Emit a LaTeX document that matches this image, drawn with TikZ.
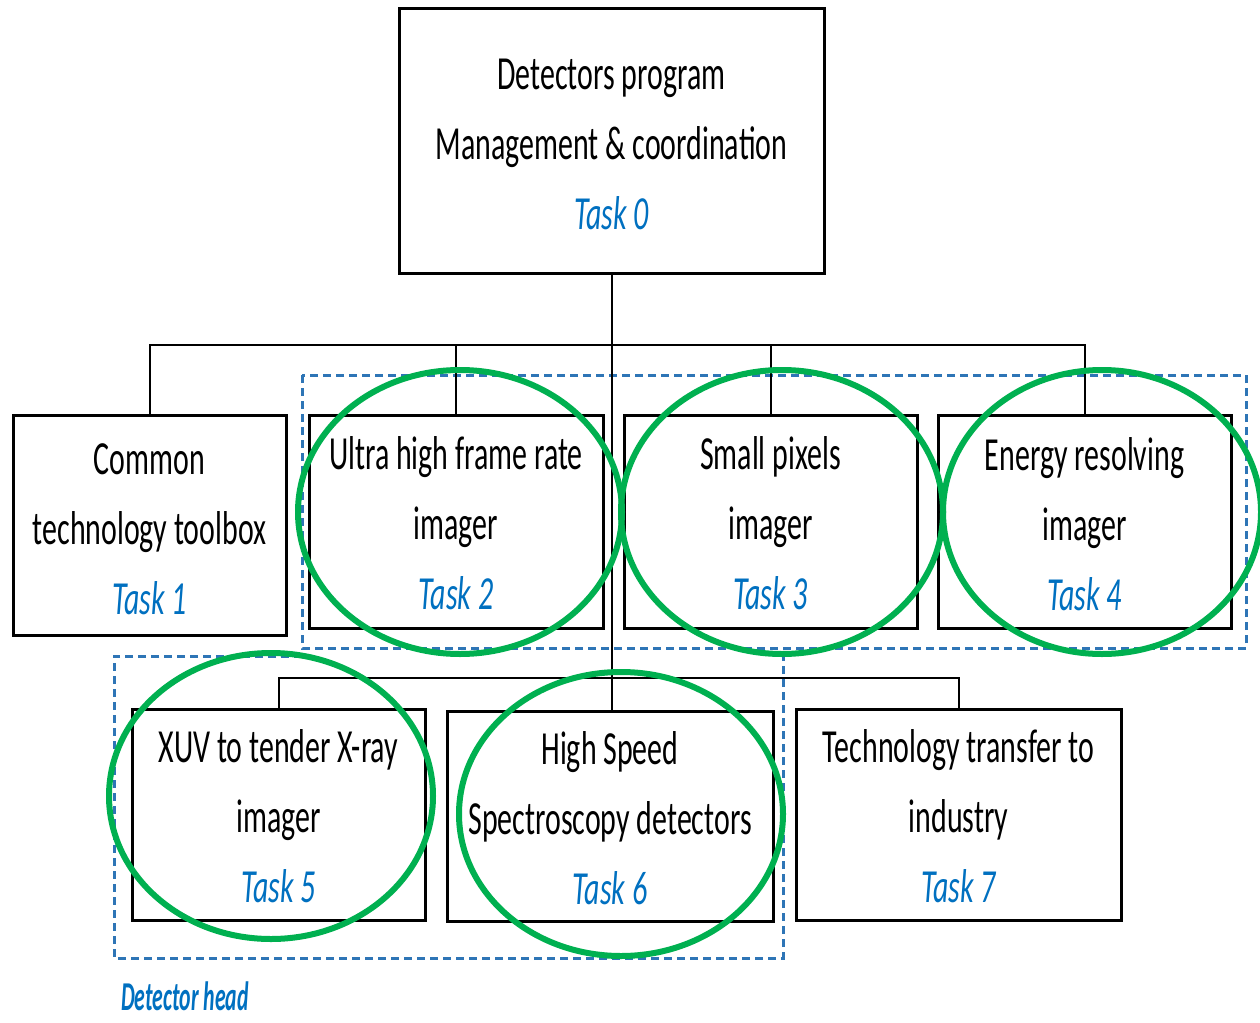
\documentclass[tikz,border=0pt]{standalone}
\usepackage{fontspec}
\setmainfont{Carlito}[FakeStretch=0.63]
\newfontfamily\headfont{Carlito}[FakeStretch=0.53]
\definecolor{taskblue}{HTML}{0070C0}
\definecolor{dashblue}{HTML}{2E75B6}
\definecolor{ringgreen}{HTML}{00B050}
\begin{document}
\begin{tikzpicture}[x=1pt,y=-1pt,
  box/.style={draw=black,line width=3pt,fill=white,inner sep=0pt,rectangle},
  txt/.style={align=center,inner sep=0pt,anchor=base,font=\fontsize{47.5}{70}\selectfont},
  conn/.style={draw=black,line width=2pt},
  region/.style={draw=dashblue,line width=3pt,dash pattern=on 8pt off 5pt},
  ring/.style={draw=ringgreen,line width=6pt}]
\useasboundingbox (0,0) rectangle (1260,1022);
% dashed regions
\draw[region] (302,375) rectangle (1246,648);
\draw[region] (302,656) -- (114,656) -- (114,958) -- (783,958) -- (783,656);
% boxes
\node[box,minimum width=425pt,minimum height=264pt] (b0) at (611.5,141) {};
\node[box,minimum width=273pt,minimum height=220pt] (b1) at (149.5,525) {};
\node[box,minimum width=294pt,minimum height=213pt] (b2) at (456,521.5) {};
\node[box,minimum width=293pt,minimum height=213pt] (b3) at (770.5,521.5) {};
\node[box,minimum width=293pt,minimum height=213pt] (b4) at (1084.5,521.5) {};
\node[box,minimum width=293pt,minimum height=211pt] (b5) at (278.5,814.5) {};
\node[box,minimum width=326pt,minimum height=210pt] (b6) at (610,816) {};
\node[box,minimum width=325pt,minimum height=211pt] (b7) at (958.5,814.5) {};
% connectors
\coordinate (bar1) at (0,345);
\coordinate (bar2) at (0,678);
\draw[conn] (b0.south) -- (b0.south |- b6.north);
\draw[conn] (b1.north) |- (b4.north |- bar1) -- (b4.north);
\draw[conn] (b2.north) -- (b2.north |- bar1);
\draw[conn] (b3.north) -- (b3.north |- bar1);
\draw[conn] (b5.north) |- (b7.north |- bar2) -- (b7.north);
% texts (anchor = baseline of last line)
\node[txt] (t0) at (611.5,229) {Detectors program\\Management \& coordination\\{\itshape\color{taskblue}Task 0}};
\node[txt] (t1) at (149.5,614) {Common\\technology toolbox\\{\itshape\color{taskblue}Task 1}};
\node[txt] (t2) at (456,609) {Ultra high frame rate\\imager\\{\itshape\color{taskblue}Task 2}};
\node[txt] (t3) at (770.5,609) {Small pixels\\imager\\{\itshape\color{taskblue}Task 3}};
\node[txt] (t4) at (1084.5,610) {Energy resolving\\imager\\{\itshape\color{taskblue}Task 4}};
\node[txt] (t5) at (278.5,902) {XUV to tender X-ray\\imager\\{\itshape\color{taskblue}Task 5}};
\node[txt] (t6) at (610,904) {High Speed\\Spectroscopy detectors\\{\itshape\color{taskblue}Task 6}};
\node[txt] (t7) at (958.5,902) {Technology transfer to\\industry\\{\itshape\color{taskblue}Task 7}};
\node[inner sep=0pt,anchor=base west,text=taskblue,font=\headfont\fontsize{41}{50}\selectfont\bfseries\itshape] (dh) at (121,1010) {Detector head};
% rings
\draw[ring] (460,512) ellipse [x radius=162pt, y radius=142pt];
\draw[ring] (782,512) ellipse [x radius=161pt, y radius=142pt];
\draw[ring] (1102,512) ellipse [x radius=159pt, y radius=142pt];
\draw[ring] (271,796) ellipse [x radius=162pt, y radius=143pt];
\draw[ring] (621,814) ellipse [x radius=162pt, y radius=142pt];
\end{tikzpicture}
\end{document}
